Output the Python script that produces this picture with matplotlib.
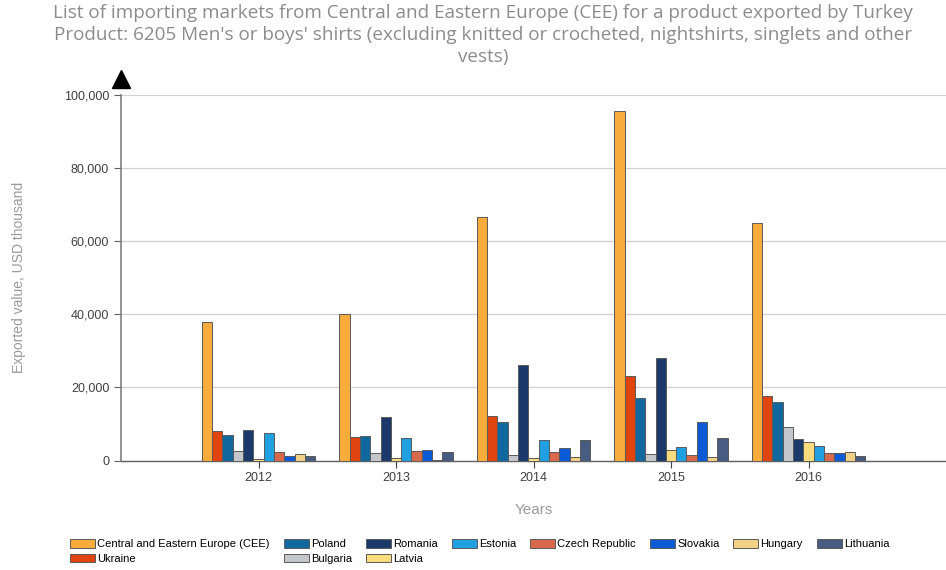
import numpy as np
import matplotlib
matplotlib.use("Agg")
import matplotlib.pyplot as plt

# years on the x axis
years = [2012, 2013, 2014, 2015, 2016]

# importing markets, in the order the bars are drawn in each group
markets = ["Central and Eastern Europe (CEE)", "Ukraine", "Poland", "Bulgaria",
           "Romania", "Latvia", "Estonia", "Czech Republic", "Slovakia",
           "Hungary", "Lithuania"]

# exported value, USD thousand, one list per market (2012..2016)
cee        = [38000, 40200, 66700, 95600, 65000]
ukraine    = [8000, 6500, 12100, 23100, 17600]
poland     = [7000, 6800, 10500, 17000, 15900]
bulgaria   = [2700, 2100, 1400, 1800, 9200]
romania    = [8300, 11900, 26200, 28100, 5900]
latvia     = [300, 600, 800, 2900, 5000]
estonia    = [7600, 6100, 5500, 3800, 4100]
czech      = [2300, 2500, 2300, 1500, 2100]
slovakia   = [1200, 2800, 3300, 10600, 2100]
hungary    = [1800, 200, 1000, 900, 2200]
lithuania  = [1200, 2300, 5500, 6200, 1200]

values = [cee, ukraine, poland, bulgaria, romania, latvia, estonia,
          czech, slovakia, hungary, lithuania]

colors = ["#f7ac3c", "#e0450f", "#10689e", "#c3c6cb", "#1b3a6b", "#f8dc7e",
          "#20a0e0", "#d9694b", "#0b5bd6", "#f1d185", "#485b80"]

plt.rcParams["font.family"] = ["Liberation Sans", "DejaVu Sans"]

fig = plt.figure(figsize=(9.46, 5.70), dpi=100)
ax = fig.add_axes([121 / 946, 1 - 460.5 / 570, 1 - 121 / 946, (460.5 - 95) / 570])

width = 0.075
n = len(markets)
x = np.array(years, dtype=float)
for i, (name, vals, c) in enumerate(zip(markets, values, colors)):
    offset = (i - (n - 1) / 2) * width
    ax.bar(x + offset, vals, width=width, color=c, edgecolor="#5a5a5a",
           linewidth=0.7, label=name, zorder=3)

ax.set_xlim(2011, 2017)
ax.set_ylim(0, 100000)
ax.set_xticks(years)
ax.set_xticklabels([str(y) for y in years])
ax.set_yticks(np.arange(0, 100001, 20000))
ax.yaxis.set_major_formatter(matplotlib.ticker.FuncFormatter(lambda v, p: f"{int(v):,}"))

# gridlines, the top one is darker
ax.grid(axis="y", color="#d0d0d0", linewidth=0.9, zorder=0)
ax.axhline(100000, color="#5a6a9a", linewidth=1.2, zorder=1)

for s in ["top", "right"]:
    ax.spines[s].set_visible(False)
ax.spines["left"].set_color("#808080")
ax.spines["left"].set_linewidth(1.2)
ax.spines["bottom"].set_color("#606060")
ax.spines["bottom"].set_linewidth(1.0)
ax.tick_params(axis="y", length=5, color="#606060", labelsize=9, labelcolor="#404040")
ax.tick_params(axis="x", length=5, color="#404040", labelsize=9, labelcolor="#404040")

# arrow head on the top of the y axis
ax.plot([0], [1.045], marker="^", markersize=13, color="black",
        transform=ax.transAxes, clip_on=False)

ax.set_ylabel("Exported value, USD thousand", color="#9a9a9a", fontsize=10)
ax.yaxis.set_label_coords(-95 / 825, 0.5)
ax.set_xlabel("Years", color="#9a9a9a", fontsize=11)
ax.xaxis.set_label_coords(0.5, -0.115)

fig.text(483 / 946, 1 - 4 / 570,
         "List of importing markets from Central and Eastern Europe (CEE) for a product exported by Turkey\n"
         "Product: 6205 Men's or boys' shirts (excluding knitted or crocheted, nightshirts, singlets and other\n"
         "vests)",
         ha="center", va="top", fontsize=13.6, color="#8c8c8c", family=["Open Sans", "DejaVu Sans"],
         linespacing=1.3)

fig.legend(loc="upper left", bbox_to_anchor=(70 / 946, 1 - 539 / 570), ncol=8,
           frameon=False, fontsize=8.0, handlelength=2.25, handleheight=0.8,
           columnspacing=1.25, handletextpad=0.2, labelspacing=0.4,
           borderaxespad=0, borderpad=0)

fig.savefig("out.png", dpi=100)
